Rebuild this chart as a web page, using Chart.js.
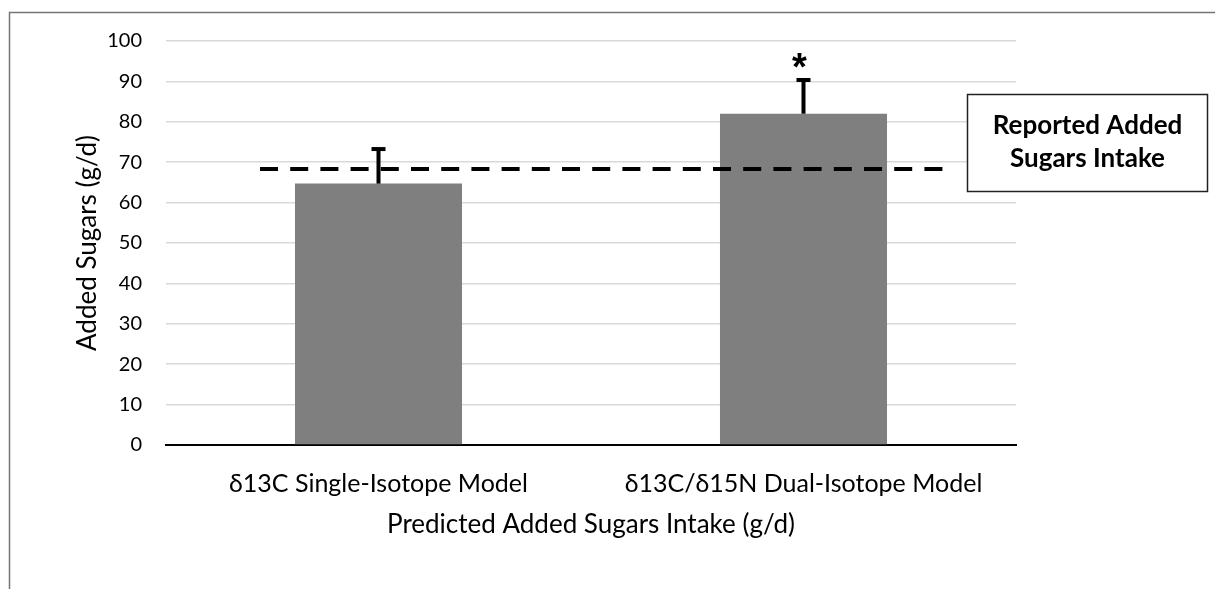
<!DOCTYPE html>
<html>
<head>
<meta charset="utf-8">
<script src="https://cdn.jsdelivr.net/npm/chart.js@4.4.1/dist/chart.umd.min.js"></script>
<style>
  html, body { margin: 0; padding: 0; background: #fff; }
  #wrap { width: 1215px; height: 589px; position: relative; }
</style>
</head>
<body>
<div id="wrap"><canvas id="sugarChart"></canvas></div>
<script>
// data
const categories = ['δ13C Single-Isotope Model', 'δ13C/δ15N Dual-Isotope Model'];
const predicted = [64.7, 82.0];
const errorUp = [8.8, 8.6];
const significant = [false, true];
const reportedIntake = 68.3;
const reportedLabel = ['Reported Added', 'Sugars Intake'];
const yMin = 0, yMax = 100, yStep = 10;

const FONT = 'Lato, "Open Sans", sans-serif';

const overlay = {
    id: 'overlay',
    beforeDraw(chart) {
        const ctx = chart.ctx;
        ctx.save();
        ctx.strokeStyle = '#757575';
        ctx.lineWidth = 1.5;
        ctx.beginPath();
        ctx.moveTo(9.5, 589);
        ctx.lineTo(9.5, 12.5);
        ctx.lineTo(1215, 12.5);
        ctx.stroke();
        ctx.restore();
    },
    afterDatasetsDraw(chart) {
        const ctx = chart.ctx;
        const y = chart.scales.y;
        const area = chart.chartArea;
        const meta = chart.getDatasetMeta(0);
        ctx.save();

        // reported intake dashed line
        const ry = y.getPixelForValue(reportedIntake);
        ctx.strokeStyle = '#000';
        ctx.lineWidth = 4;
        ctx.setLineDash([18, 12.2]);
        ctx.beginPath();
        ctx.moveTo(area.left + area.width * 0.1106, ry);
        ctx.lineTo(area.left + area.width * 0.9165, ry);
        ctx.stroke();
        ctx.setLineDash([]);

        // upper error bars + significance marker
        meta.data.forEach((bar, i) => {
            const top = y.getPixelForValue(predicted[i] + errorUp[i]);
            const base = y.getPixelForValue(predicted[i]);
            ctx.fillStyle = '#000';
            ctx.fillRect(bar.x - 2, top, 4, base - top);
            ctx.fillRect(bar.x - 7, top - 1, 14, 4);
            if (significant[i]) {
                ctx.font = 'bold 38px "Liberation Sans", sans-serif';
                ctx.textAlign = 'center';
                ctx.textBaseline = 'alphabetic';
                ctx.fillText('*', bar.x - 4, top - 21 + 0.58 * 38);
            }
        });

        // label box
        const bx = 967.5, by = 94.5, bw = 240, bh = 97;
        ctx.fillStyle = '#fff';
        ctx.fillRect(bx, by, bw, bh);
        ctx.strokeStyle = '#222';
        ctx.lineWidth = 1.5;
        ctx.strokeRect(bx, by, bw, bh);
        ctx.fillStyle = '#000';
        ctx.font = 'bold 26px ' + FONT;
        ctx.textAlign = 'center';
        ctx.textBaseline = 'middle';
        ctx.fillText(reportedLabel[0], bx + bw / 2, 126);
        ctx.fillText(reportedLabel[1], bx + bw / 2, 159);
        ctx.restore();
    }
};

const ctx = document.getElementById('sugarChart').getContext('2d');
new Chart(ctx, {
    type: 'bar',
    data: {
        labels: categories,
        datasets: [{
            data: predicted,
            backgroundColor: '#7f7f7f',
            barPercentage: 0.393,
            categoryPercentage: 1.0,
        }],
    },
    options: {
        responsive: true,
        maintainAspectRatio: false,
        animation: false,
        layout: { padding: { top: 41, right: 199, left: 0, bottom: 0 } },
        plugins: {
            legend: { display: false },
            tooltip: { enabled: false },
        },
        scales: {
            x: {
                grid: { display: false, drawTicks: false },
                border: { display: true, color: '#000', width: 2 },
                ticks: { color: '#000', font: { family: FONT, size: 25 }, padding: 24 },
                title: {
                    display: true,
                    text: 'Predicted Added Sugars Intake (g/d)',
                    color: '#000',
                    font: { family: FONT, size: 26 },
                    padding: { top: 0, bottom: 49 },
                },
                afterFit(scale) { scale.height = 144; },
            },
            y: {
                min: yMin,
                max: yMax,
                grid: { color: '#d9d9d9', lineWidth: 1.5, drawTicks: false },
                border: { display: false },
                ticks: { stepSize: yStep, color: '#000', font: { family: FONT, size: 20 }, padding: 24 },
                title: {
                    display: true,
                    text: 'Added Sugars (g/d)',
                    color: '#000',
                    font: { family: FONT, size: 26 },
                    padding: { top: 72, bottom: 0 },
                },
                afterFit(scale) { scale.width = 166; },
            },
        },
    },
    plugins: [overlay],
});
</script>
</body>
</html>
